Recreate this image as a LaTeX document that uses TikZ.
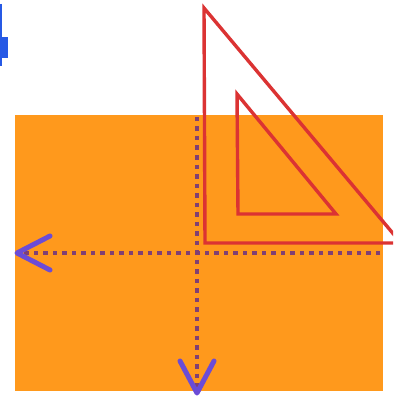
\documentclass[tikz,border=0pt]{standalone}
\usepackage{xcolor}
\definecolor{sheet}{rgb}{1,0.60,0.11}
\definecolor{squarered}{rgb}{0.86,0.20,0.20}
\definecolor{axisdot}{rgb}{0.50,0.25,0.45}
\definecolor{axishead}{rgb}{0.42,0.30,0.84}
\definecolor{markblue}{rgb}{0.15,0.35,0.90}
\usetikzlibrary{calc, positioning}

\begin{document}
\begin{tikzpicture}[x=1pt, y=-1pt,
    setsq/.style={draw=squarered, line width=3.4pt, line join=miter},
    axisline/.style={draw=axisdot, line width=4.5pt, dash pattern=on 4.5pt off 5pt},
    axistip/.style={draw=axishead, line width=5pt, line cap=round, line join=round}]
    % Frame
    \clip (0,0) rectangle (393,398);
    \useasboundingbox (0,0) rectangle (393,398);

    % Blue mark at the edge
    \fill[markblue] (0,37) rectangle (8,58);
    \draw[markblue, line width=1.5pt] (1,4) -- (1,66);

    % Orange sheet
    \fill[sheet] (15,115) rectangle (383,391);

    % Set square
    \coordinate (top) at (204,8);
    \coordinate (corner) at (205,243);
    \coordinate (tipR) at (401,243);
    \draw[setsq] (top) -- (corner) -- (tipR) -- cycle;
    \coordinate (itop) at (237,94);
    \coordinate (icorner) at (238,214);
    \coordinate (iright) at (336,214);
    \draw[setsq] (itop) -- (icorner) -- (iright) -- cycle;

    % Dotted axes
    \coordinate (vstart) at (197,117);
    \coordinate (vend) at (197,393);
    \coordinate (hstart) at (380,253);
    \coordinate (hend) at (17,253);
    \draw[axisline] (vstart) -- (vend);
    \draw[axisline] (hstart) -- (hend);

    % Arrow heads
    \draw[axistip] ($(hend)+(33,-17)$) -- (hend) -- ($(hend)+(33,17)$);
    \draw[axistip] ($(vend)+(-17,-32)$) -- (vend) -- ($(vend)+(17,-32)$);
\end{tikzpicture}
\end{document}
